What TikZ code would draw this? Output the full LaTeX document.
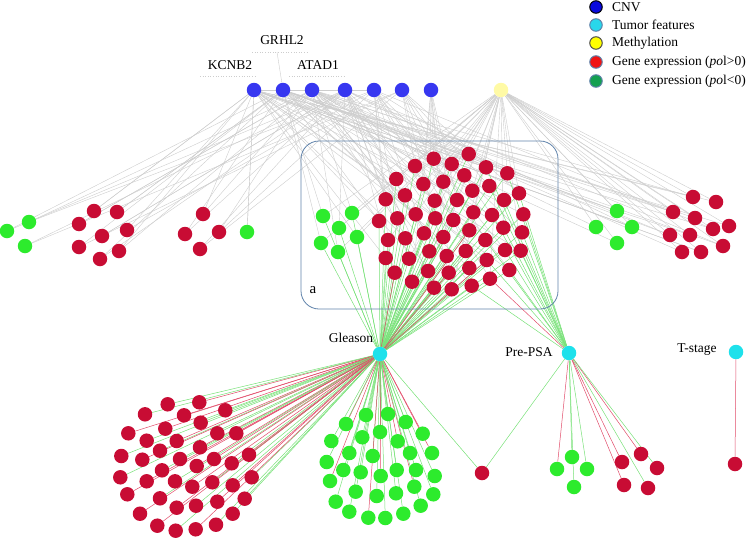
\documentclass[tikz,border=0pt]{standalone}
\usepackage{fontspec}
\setmainfont{Liberation Serif}
\pgfdeclarelayer{edges}
\pgfsetlayers{edges,main}
\definecolor{gred}{RGB}{200,12,52}
\definecolor{ggreen}{RGB}{45,235,45}
\definecolor{cnvblue}{RGB}{55,55,240}
\definecolor{methy}{RGB}{255,250,165}
\definecolor{tumc}{RGB}{30,225,235}
\definecolor{eg}{RGB}{120,225,120}
\definecolor{er}{RGB}{225,75,105}
\definecolor{gl}{RGB}{205,205,205}
\definecolor{boxc}{RGB}{95,130,170}
\definecolor{lgred}{RGB}{240,20,20}
\definecolor{lggreen}{RGB}{20,160,80}
\definecolor{lgblue}{RGB}{10,10,220}
\definecolor{lgyel}{RGB}{255,255,0}
\definecolor{lgcyan}{RGB}{40,215,235}
\begin{document}
\begin{tikzpicture}[x=1pt,y=-1pt,font=\fontsize{13.5}{15}\selectfont,
  gnode/.style={circle,inner sep=0pt,minimum size=14.5pt,draw=none},
  lgnode/.style={circle,inner sep=0pt,minimum size=12.5pt,line width=1pt},
  gline/.style={draw=gl,line width=0.4pt},
  pline/.style={draw=eg,line width=0.5pt},
  nline/.style={draw=er,line width=0.5pt},
  lbl/.style={inner sep=1pt},
  lgtext/.style={anchor=west,inner sep=0pt,font=\fontsize{13.5}{15}\selectfont}]
\useasboundingbox (0,0) rectangle (750,538);

% legend
\node[lgnode,fill=lgblue,draw=black] (lg1) at (596,7) {};
\node[lgnode,fill=lgcyan,draw=boxc] (lg2) at (596,25) {};
\node[lgnode,fill=lgyel,draw=black!70] (lg3) at (596,43) {};
\node[lgnode,fill=lgred,draw=boxc] (lg4) at (596,62) {};
\node[lgnode,fill=lggreen,draw=boxc] (lg5) at (596,81) {};
\node[lgtext] (lt1) at (612,7) {CNV};
\node[lgtext] (lt2) at (612,25) {Tumor features};
\node[lgtext] (lt3) at (612,43) {Methylation};
\node[lgtext] (lt4) at (612,62) {Gene expression (\textit{po}l>0)};
\node[lgtext] (lt5) at (612,81) {Gene expression (\textit{po}l<0)};

% top labels
\node[lbl] (kc) at (230,65) {KCNB2};
\node[lbl] (gr) at (282,40) {GRHL2};
\node[lbl] (at) at (318,65) {ATAD1};
\draw[gl,dotted,line width=0.6pt] (200,76) -- (257,76);
\draw[gl,dotted,line width=0.6pt] (252,52) -- (307,52);
\draw[gl,dotted,line width=0.6pt] (289,76) -- (345,76);

% CNV and methylation
\foreach \x [count=\i] in {254,283,312,345,374,402,431}
  \node[gnode,fill=cnvblue] (c\i) at (\x,90) {};
\node[gnode,fill=methy] (m) at (501,90) {};
\coordinate (grl) at (277,52);

% tumor features
\node[gnode,fill=tumc] (gls) at (380,354) {};
\node[gnode,fill=tumc] (psa) at (569,353) {};
\node[gnode,fill=tumc] (tst) at (736,352) {};
\node[lbl] (glsl) at (351,338) {Gleason};
\node[lbl] (psal) at (529,352) {Pre-PSA};
\node[lbl] (tstl) at (697,350) {T-stage};

% box
\draw[boxc,rounded corners=18pt,line width=0.8pt] (301,141) rectangle (558,309);
\node[inner sep=0pt,font=\fontsize{15}{17}\selectfont] (alab) at (313,290) {a};

% left clusters
\foreach \x/\y/\c [count=\i] in {7/231/ggreen,29/222/ggreen,25/246/ggreen,94/211/gred,117/212/gred,79/224/gred,102/236/gred,127/230/gred,79/247/gred,119/251/gred,100/259/gred,203/214/gred,185/234/gred,219/232/gred,200/249/gred,247/232/ggreen}
  \node[gnode,fill=\c] (l\i) at (\x,\y) {};

% right clusters
\foreach \x/\y/\c [count=\i] in {617/211/ggreen,596/227/ggreen,632/227/ggreen,617/243/ggreen,693/197/gred,716/202/gred,673/212/gred,695/218/gred,713/229/gred,729/226/gred,670/235/gred,690/235/gred,723/246/gred,682/252/gred,701/252/gred}
  \node[gnode,fill=\c] (r\i) at (\x,\y) {};

% box green
\foreach \x/\y [count=\i] in {323/216,352/213,339/228,357/237,321/243,338/252}
  \node[gnode,fill=ggreen] (bg\i) at (\x,\y) {};

% box red
\foreach \x/\y [count=\i] in {468.7/154,433.7/158.7,451.7/164,415/166,486/167.3,507.3/173.3,464.3/175.3,396.3/179,423.3/184,443.3/181.7,489.3/186,472.3/190.7,385.7/199.3,405/195.3,434.7/200.7,457/200,504/200,519/193.3,379/221,397.3/218.3,415.7/214.3,435.3/218.3,453.3/220,473.3/212.3,492/215,523.3/214.3,388/240,405.3/238.3,424/233.3,443.3/237,469.3/230.3,485.3/240,503.3/227.7,522/232.3,385.7/258,409/258.7,429.3/251.3,446.7/256,465.7/251,486.7/260,505/250,520.7/250.7,394.7/272.7,412/281.7,428/271,448.7/272.7,469.3/268,490/278.7,509.3/270,434/287.7,451.7/289.3,471.7/285.7}
  \node[gnode,fill=gred] (b\i) at (\x,\y) {};

% bottom-left red
\foreach \x/\y [count=\i] in {167.7/404.3,199.3/402.3,145/414.3,184/415.3,225.3/410.3,165.3/428.7,200.7/422.7,128.3/433.3,146.7/440.7,176.7/441,217.3/433.3,236.3/433.3,160/450.7,200/447.3,121.3/456,142.3/459.7,180/459,214/459,231.7/463.3,249/454.7,162/470.3,196.7/466,120.3/477.3,146.7/481.3,175/481.3,192.3/486.7,212.3/482.3,232.7/485.3,251.7/477.3,127.3/494.3,160/498.3,176.7/507.7,196/505.7,217.3/501.7,244.7/498.7,140/513.7,232.7/513.7,157.3/525.7,175.7/530.7,195.7/529.3,216/524.7}
  \node[gnode,fill=gred] (q\i) at (\x,\y) {};

% bottom green
\foreach \x/\y [count=\i] in {346/424,366/415,388/414,405.7/422,422.7/433.7,331.3/441,362.3/437.3,380/432,397.7/441.3,349.3/453,372.7/456,410/453,432/453,326.7/462,343.3/470,360.7/472.3,380.7/476,396.7/470,416/470,434.7/476,330/481,355.7/491.7,376.7/496,396/493.3,414.3/486.7,433.3/494.3,335.7/501.7,349.3/511.7,368.3/517.7,385.3/518,403.3/513.7,420.7/505.7}
  \node[gnode,fill=ggreen] (w\i) at (\x,\y) {};

% isolated / pre-psa / t-stage children
\node[gnode,fill=gred] (iso) at (482,473) {};
\foreach \x/\y/\c [count=\i] in {557/469/ggreen,572/457/ggreen,587/469/ggreen,574/487/ggreen,622/462/gred,641/454/gred,657/468/gred,624/485/gred,648/488/gred}
  \node[gnode,fill=\c] (p\i) at (\x,\y) {};
\node[gnode,fill=gred] (ts1) at (735,464) {};

\begin{pgfonlayer}{edges}
% gray edges
\draw[gline] (grl) -- (c2);
\foreach \i in {1,...,16}{
  \pgfmathtruncatemacro\ka{mod(\i,4)+1}
  \pgfmathtruncatemacro\kb{mod(\i+2,6)+1}
  \draw[gline] (c\ka) -- (l\i);
  \draw[gline] (c\kb) -- (l\i);
}
\foreach \i in {1,...,15}{
  \pgfmathtruncatemacro\ka{mod(\i,5)+1}
  \pgfmathtruncatemacro\kb{mod(\i,3)+1}
  \draw[gline] (m) -- (r\i);
  \draw[gline] (c\kb) -- (r\i);
  \pgfmathtruncatemacro\t{mod(\i,2)}
  \ifnum\t=1 \draw[gline] (c\ka) -- (r\i);\fi
}
\foreach \i in {1,...,52}{
  \pgfmathtruncatemacro\ka{mod(3*\i,7)+1}
  \draw[gline] (c\ka) -- (b\i);
  \pgfmathtruncatemacro\t{mod(\i,3)}
  \ifnum\t=0 \draw[gline] (m) -- (b\i);\fi
  \pgfmathtruncatemacro\u{mod(\i,4)}
  \pgfmathtruncatemacro\kb{mod(\i,5)+1}
  \ifnum\u=1 \draw[gline] (c\kb) -- (b\i);\fi
}
\foreach \i in {1,...,6}{
  \pgfmathtruncatemacro\ka{mod(\i,4)+1}
  \draw[gline] (c\ka) -- (bg\i);
  \draw[gline] (m) -- (bg\i);
}
\draw[gline] (c1) -- (c4);
\draw[gline] (c2) -- (c5);
% Gleason edges
\foreach \i in {1,...,52} \draw[pline] (gls) -- (b\i);
\foreach \i in {40,43,46,31} \draw[nline] (gls) -- (b\i);
\foreach \i in {1,...,6} \draw[pline] (gls) -- (bg\i);
\foreach \i in {1,...,41}{
  \pgfmathtruncatemacro\t{mod(\i,2)}
  \ifnum\t=0 \draw[nline] (gls) -- (q\i);\else \draw[pline] (gls) -- (q\i);\fi
}
\foreach \i in {1,...,32}{
  \pgfmathtruncatemacro\t{mod(\i,4)}
  \ifnum\t=1 \draw[nline] (gls) -- (w\i);\else \draw[pline] (gls) -- (w\i);\fi
}
\draw[pline] (gls) -- (iso);
\draw[pline] (psa) -- (iso);
% Pre-PSA edges
\foreach \i in {5,6,11,17,18,25,26,32,33,34,40,41,42,49,52} \draw[pline] (psa) -- (b\i);
\draw[nline] (psa) -- (b48);
\foreach \i/\s in {1/nline,2/pline,3/pline,4/pline,5/nline,6/nline,7/pline,8/nline,9/pline}
  \draw[\s] (psa) -- (p\i);
\draw[nline] (tst) -- (ts1);
\end{pgfonlayer}
\end{tikzpicture}
\end{document}
